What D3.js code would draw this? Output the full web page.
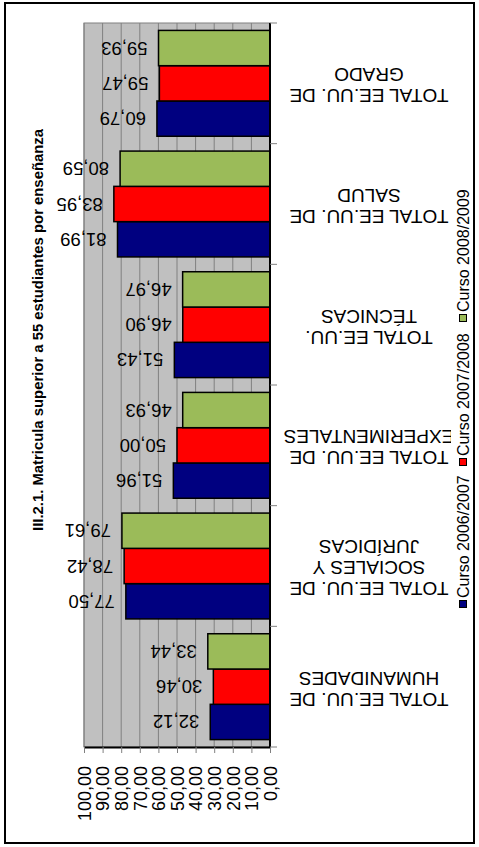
<!DOCTYPE html>
<html>
<head>
<meta charset="utf-8">
<script src="https://cdnjs.cloudflare.com/ajax/libs/d3/7.8.5/d3.min.js"></script>
<style>
  html, body { margin: 0; padding: 0; background: #ffffff; }
  svg { display: block; }
  text { font-family: "Liberation Sans", Arial, sans-serif; fill: #000; }
</style>
</head>
<body>
<svg id="chart" width="479" height="847"></svg>
<script>
// Enrolment per study branch, three academic years (column chart drawn turned on its side)
const categories = [
  "TOTAL EE.UU. DE HUMANIDADES",
  "TOTAL EE.UU. DE SOCIALES Y JURÍDICAS",
  "TOTAL EE.UU. DE EXPERIMENTALES",
  "TOTAL EE.UU. TÉCNICAS",
  "TOTAL EE.UU. DE SALUD",
  "TOTAL EE.UU. DE GRADO"
];
const categoryLines = [
  ["TOTAL EE.UU. DE", "HUMANIDADES"],
  ["TOTAL EE.UU. DE", "SOCIALES Y", "JURÍDICAS"],
  ["TOTAL EE.UU. DE", "EXPERIMENTALES"],
  ["TOTAL EE.UU.", "TÉCNICAS"],
  ["TOTAL EE.UU. DE", "SALUD"],
  ["TOTAL EE.UU. DE", "GRADO"]
];
const seriesNames = ["Curso 2006/2007", "Curso 2007/2008", "Curso 2008/2009"];
const curso2006 = [32.12, 77.50, 51.96, 51.43, 81.99, 60.79];
const curso2007 = [30.46, 78.42, 50.00, 46.90, 83.95, 59.47];
const curso2008 = [33.44, 79.61, 46.93, 46.97, 80.59, 59.93];
const seriesValues = [curso2006, curso2007, curso2008];
const seriesColors = ["#000080", "#FF0000", "#9BBB59"];
const valueTicks = [0, 10, 20, 30, 40, 50, 60, 70, 80, 90, 100];
const titleText = "III.2.1. Matricula superior a 55 estudiantes por enseñanza";

const svg = d3.select("#chart");
const fmt = v => d3.format(".2f")(v).replace(".", ",");

// outer frame
svg.append("rect")
  .attr("x", 5).attr("y", 3).attr("width", 469).attr("height", 840)
  .attr("fill", "#fff").attr("stroke", "#000").attr("stroke-width", 2);

// plot area bounds
const plot = { left: 84, right: 270, top: 23, bottom: 747 };

const x = d3.scaleLinear().domain([0, 100]).range([plot.right, plot.left]);
const y0 = d3.scaleBand().domain(categories).range([plot.bottom, plot.top]).paddingInner(0).paddingOuter(0);
const y1 = d3.scaleBand().domain(seriesNames.slice().reverse())
  .range([0, y0.bandwidth()]).paddingInner(0).paddingOuter(0.21);

// plot background
svg.append("rect")
  .attr("x", plot.left).attr("y", plot.top)
  .attr("width", plot.right - plot.left).attr("height", plot.bottom - plot.top)
  .attr("fill", "#C0C0C0").attr("stroke", "#808080").attr("stroke-width", 1);

// gridlines
svg.append("g").selectAll("line")
  .data(valueTicks.filter(v => v > 0))
  .join("line")
  .attr("x1", d => x(d)).attr("x2", d => x(d))
  .attr("y1", plot.top).attr("y2", plot.bottom)
  .attr("stroke", "#808080").attr("stroke-width", 1);

// bars
const rows = categories.map((c, i) => ({
  cat: c,
  items: seriesNames.map((s, k) => ({ series: s, value: seriesValues[k][i], color: seriesColors[k] }))
}));

const groups = svg.append("g").selectAll("g")
  .data(rows).join("g")
  .attr("transform", d => `translate(0,${y0(d.cat)})`);

groups.selectAll("rect")
  .data(d => d.items).join("rect")
  .attr("x", d => x(d.value))
  .attr("y", d => y1(d.series))
  .attr("width", d => x(0) - x(d.value))
  .attr("height", y1.bandwidth())
  .attr("fill", d => d.color)
  .attr("stroke", "#000").attr("stroke-width", 1.5);

// value labels (upside down, beyond the bar end)
groups.selectAll("text")
  .data(d => d.items).join("text")
  .attr("transform", d => `translate(${x(d.value) - 11},${y1(d.series) + y1.bandwidth() / 2}) rotate(180)`)
  .attr("dy", "0.35em")
  .attr("text-anchor", "start")
  .attr("font-size", 18.5)
  .text(d => fmt(d.value));

// value axis along the bottom
const xAxis = d3.axisBottom(x).tickValues(valueTicks).tickSize(6).tickSizeOuter(0).tickFormat(fmt);
const gx = svg.append("g").attr("transform", `translate(0,${plot.bottom})`).call(xAxis);
gx.select(".domain").attr("stroke", "#000").attr("stroke-width", 2);
gx.selectAll(".tick line").attr("stroke", "#808080");
gx.selectAll(".tick text")
  .attr("font-family", "'Liberation Sans', Arial, sans-serif")
  .attr("font-size", 18).attr("fill", "#000")
  .attr("text-anchor", "end")
  .attr("transform", "translate(0,19) rotate(-90)")
  .attr("x", 0).attr("y", 0).attr("dy", "0.35em");

// category axis line and boundary ticks
svg.append("line")
  .attr("x1", plot.right).attr("x2", plot.right)
  .attr("y1", plot.top).attr("y2", plot.bottom)
  .attr("stroke", "#000").attr("stroke-width", 2);
const bounds = categories.map(c => y0(c)).concat([y0(categories[0]) + y0.bandwidth()]);
svg.append("g").selectAll("line")
  .data(bounds).join("line")
  .attr("x1", plot.right).attr("x2", plot.right + 7)
  .attr("y1", d => d).attr("y2", d => d)
  .attr("stroke", "#808080");

// category labels (upside down, wrapped, clipped to their slot)
svg.append("clipPath").attr("id", "catclip")
  .append("rect").attr("x", 276).attr("y", 0).attr("width", 175).attr("height", 847);
const catLabels = svg.append("g").attr("clip-path", "url(#catclip)");
categories.forEach((c, i) => {
  const lines = categoryLines[i];
  const cy = y0(c) + y0.bandwidth() / 2 + 2;
  const lh = 21;
  const t = catLabels.append("text")
    .attr("transform", `translate(369,${cy}) rotate(180)`)
    .attr("text-anchor", "middle")
    .attr("font-size", 19);
  lines.forEach((ln, j) => {
    t.append("tspan")
      .attr("x", 0)
      .attr("y", (j - (lines.length - 1) / 2) * lh)
      .attr("dy", "0.35em")
      .text(ln);
  });
});

// title
svg.append("text")
  .attr("transform", "translate(38,330) rotate(-90)")
  .attr("text-anchor", "middle")
  .attr("dy", "0.35em")
  .attr("font-family", "'Liberation Sans Narrow', 'Arial Narrow', 'Liberation Sans', Arial, sans-serif")
  .attr("font-weight", "bold")
  .attr("font-size", 14)
  .attr("textLength", 402)
  .attr("lengthAdjust", "spacingAndGlyphs")
  .text(titleText);

// legend
const legendY = [604, 462, 318];
const legend = svg.append("g").selectAll("g")
  .data(seriesNames).join("g")
  .attr("transform", (d, i) => `translate(463,${legendY[i]})`);
legend.append("rect")
  .attr("x", -3.5).attr("y", -3.5).attr("width", 7).attr("height", 7)
  .attr("fill", (d, i) => seriesColors[i]).attr("stroke", "#000").attr("stroke-width", 1);
legend.append("text")
  .attr("transform", "translate(0,-6) rotate(-90)")
  .attr("dy", "0.35em")
  .attr("font-size", 16)
  .text(d => d);
</script>
</body>
</html>
